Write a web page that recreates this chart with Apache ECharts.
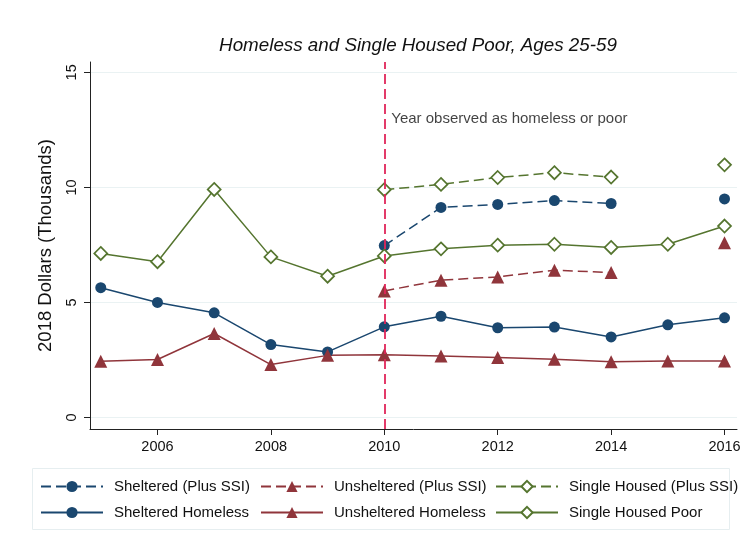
<!DOCTYPE html>
<html>
<head>
<meta charset="utf-8">
<script src="https://cdn.jsdelivr.net/npm/echarts@6/dist/echarts.min.js"></script>
<style>
  html, body { margin: 0; padding: 0; background: #fff; }
  #chart { width: 748px; height: 558px; }
</style>
</head>
<body>
<div id="chart"></div>
<script>
// Survey years
const years = [2005, 2006, 2007, 2008, 2009, 2010, 2011, 2012, 2013, 2014, 2015, 2016];

// Mean income, 2018 dollars (thousands), by group
const shelteredHomeless   = [5.64, 5.00, 4.55, 3.17, 2.85, 3.94, 4.40, 3.90, 3.93, 3.50, 4.03, 4.33];
const unshelteredHomeless = [2.44, 2.52, 3.65, 2.30, 2.70, 2.73, 2.67, 2.61, 2.53, 2.42, 2.46, 2.45];
const singleHousedPoor    = [7.13, 6.77, 9.91, 6.98, 6.14, 7.02, 7.33, 7.49, 7.53, 7.39, 7.53, 8.32];

// Income including SSI, observed from 2010 on (no 2015 value)
const ssiYears            = [2010, 2011, 2012, 2013, 2014, 2015, 2016];
const shelteredPlusSSI    = [7.47, 9.13, 9.26, 9.43, 9.30, null, 9.50];
const unshelteredPlusSSI  = [5.50, 5.97, 6.11, 6.40, 6.30, null, 7.59];
const singleHousedPlusSSI = [9.90, 10.13, 10.43, 10.64, 10.45, null, 10.98];

// Axis ticks
const xTicks = [2006, 2008, 2010, 2012, 2014, 2016];
const yTicks = [0, 5, 10, 15];

// Reference year marker and its note
const observedYear = 2010;
const noteLevel = 12.97;
const noteText = 'Year observed as homeless or poor';

const BLUE = '#1a476f';
const RED = '#90353b';
const GREEN = '#55752f';
const FONT = '"Liberation Sans", Arial, sans-serif';

const pairs = (xs, ys) => xs.map((x, i) => [x, ys[i]]);

function lineSeries(name, xs, ys, color, symbol, dashed) {
  const hollow = symbol === 'diamond';
  return {
    name: name,
    type: 'line',
    data: pairs(xs, ys),
    connectNulls: false,
    symbol: symbol,
    symbolSize: symbol === 'circle' ? 11 : 13,
    showAllSymbol: true,
    lineStyle: { color: color, width: 1.5, type: dashed ? [10, 5] : 'solid' },
    itemStyle: hollow
      ? { color: '#ffffff', borderColor: color, borderWidth: 1.7 }
      : { color: color, borderWidth: 0 },
    emphasis: { disabled: true },
    z: 3
  };
}

const chart = echarts.init(document.getElementById('chart'), null, { renderer: 'canvas' });

const legendBase = {
  orient: 'vertical',
  top: 479,
  padding: 0,
  itemWidth: 62,
  itemHeight: 14,
  itemGap: 11,
  selectedMode: false,
  textStyle: { fontFamily: FONT, fontSize: 15, color: '#111', padding: [0, 0, 0, 6] }
};

chart.setOption({
  animation: false,
  backgroundColor: '#ffffff',
  title: {
    text: 'Homeless and Single Housed Poor, Ages 25-59',
    left: 413,
    textAlign: 'center',
    top: 31,
    textStyle: { fontFamily: FONT, fontSize: 18.8, fontStyle: 'italic', fontWeight: 'normal', color: '#111' }
  },
  grid: { left: 90, right: 11, top: 62, bottom: 129, containLabel: false },
  xAxis: {
    type: 'value',
    min: 2004.81,
    max: 2016.22,
    axisLine: { onZero: false, lineStyle: { color: '#222', width: 1 } },
    axisTick: { customValues: xTicks, length: 6, lineStyle: { color: '#222' } },
    axisLabel: {
      customValues: xTicks,
      formatter: v => String(v),
      margin: 10,
      fontFamily: FONT, fontSize: 14.5, color: '#111'
    },
    splitLine: { show: false }
  },
  yAxis: {
    type: 'value',
    min: -0.5,
    max: 15.45,
    name: '2018 Dollars (Thousands)',
    nameLocation: 'middle',
    nameRotate: 90,
    nameGap: 35,
    nameTextStyle: { fontFamily: FONT, fontSize: 18.5, color: '#111' },
    axisLine: { show: true, onZero: false, lineStyle: { color: '#222', width: 1 } },
    axisTick: { show: true, customValues: yTicks, length: 6, lineStyle: { color: '#222' } },
    axisLabel: {
      customValues: yTicks,
      rotate: 90,
      margin: 11,
      fontFamily: FONT, fontSize: 14.5, color: '#111'
    },
    splitLine: { show: true, lineStyle: { color: '#eaf2f3', width: 1.2 } }
  },
  legend: [
    Object.assign({}, legendBase, { left: 40, data: ['Sheltered (Plus SSI)', 'Sheltered Homeless'] }),
    Object.assign({}, legendBase, { left: 260, data: ['Unsheltered (Plus SSI)', 'Unsheltered Homeless'] }),
    Object.assign({}, legendBase, { left: 495, data: ['Single Housed (Plus SSI)', 'Single Housed Poor'] })
  ],
  graphic: [{
    type: 'rect',
    shape: { x: 32.5, y: 468.5, width: 697, height: 61 },
    style: { fill: 'none', stroke: '#e6eef0', lineWidth: 1 },
    silent: true
  }],
  series: [
    {
      name: 'note',
      type: 'scatter',
      data: [[observedYear, noteLevel]],
      symbolSize: 0,
      label: {
        show: true, position: 'right', distance: 7,
        formatter: noteText,
        fontFamily: FONT, fontSize: 15, color: '#111'
      },
      markLine: {
        silent: true,
        symbol: 'none',
        label: { show: false },
        lineStyle: { color: '#e0265a', width: 1.8, type: [10, 5] },
        data: [{ xAxis: observedYear }]
      },
      z: 1
    },
    lineSeries('Sheltered (Plus SSI)', ssiYears, shelteredPlusSSI, BLUE, 'circle', true),
    lineSeries('Unsheltered (Plus SSI)', ssiYears, unshelteredPlusSSI, RED, 'triangle', true),
    lineSeries('Single Housed (Plus SSI)', ssiYears, singleHousedPlusSSI, GREEN, 'diamond', true),
    lineSeries('Sheltered Homeless', years, shelteredHomeless, BLUE, 'circle', false),
    lineSeries('Unsheltered Homeless', years, unshelteredHomeless, RED, 'triangle', false),
    lineSeries('Single Housed Poor', years, singleHousedPoor, GREEN, 'diamond', false)
  ]
});
</script>
</body>
</html>
